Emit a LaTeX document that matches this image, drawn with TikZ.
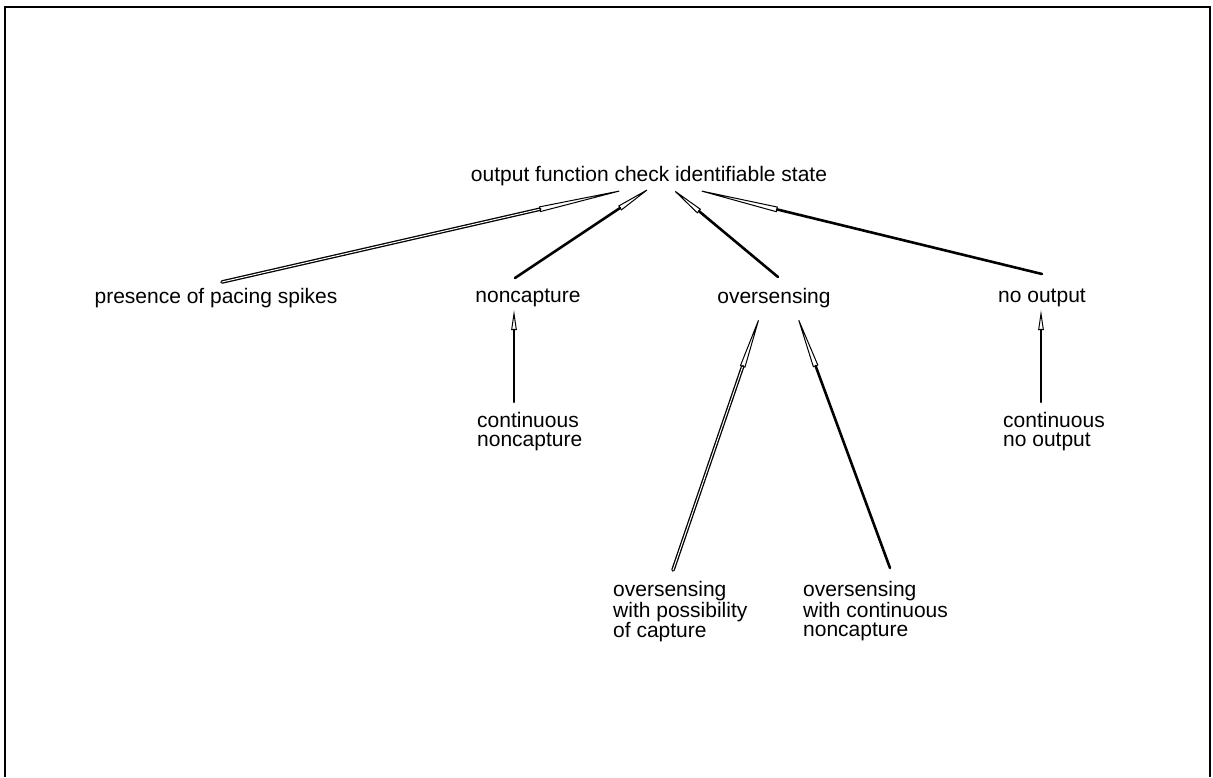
\documentclass[tikz,border=0pt]{standalone}
\usepackage{fontspec}
\setmainfont{Liberation Sans}
\usetikzlibrary{arrows.meta}
\begin{document}
\begin{tikzpicture}[x=1pt,y=-1pt,
  lbl/.style={inner sep=0pt, font=\fontsize{21}{19}\selectfont},
  multi/.style={lbl, align=left, anchor=north west},
  link/.style={line width=2.6pt, line cap=round,
    -{Stealth[open,length=#1,width=5.5pt,line width=1pt,inset=0pt]}},
  link/.default=20pt,
  hollow/.style={line width=1.3pt, double=white, double distance=1pt}]
  \useasboundingbox (0,0) rectangle (1213,777);
  % open frame
  \draw[line width=2.5pt] (5,777) -- (5,7) -- (1210,7) -- (1210,777);

  % nodes
  \node[lbl] (root) at (649,176) {output function check identifiable state};
  \node[lbl] (spk) at (216,298) {presence of pacing spikes};
  \node[lbl] (nc)  at (528,298) {noncapture};
  \node[lbl] (os)  at (774,298) {oversensing};
  \node[lbl] (no)  at (1042,298) {no output};
  \node[multi] (cnc) at (477,412) {continuous\\noncapture};
  \node[multi] (cno) at (1003,412) {continuous\\no output};
  \node[multi] (osc) at (613,581) {oversensing\\with possibility\\of capture};
  \node[multi] (osn) at (803,581) {oversensing\\with continuous\\noncapture};

  % anchor points of the connectors
  \coordinate (rA) at (637,187);
  \coordinate (rB) at (653,186);
  \coordinate (rC) at (670,187);
  \coordinate (rD) at (685,187);
  \coordinate (sA) at (222,282);
  \coordinate (nA) at (515,278);
  \coordinate (oA) at (778,277);
  \coordinate (dA) at (1042,274);
  \coordinate (oL) at (762,310);
  \coordinate (oR) at (795,310);
  \coordinate (cL) at (673,570);
  \coordinate (cR) at (890,568);
  \coordinate (vA) at (514,402);
  \coordinate (vAt) at (514,310);
  \coordinate (vB) at (1041,402);
  \coordinate (vBt) at (1041,310);

  % connectors
  \draw[link=100pt, hollow] (sA) -- (rA);
  \draw[link=40pt]  (nA) -- (rB);
  \draw[link=38pt]  (oA) -- (rC);
  \draw[link=95pt]  (dA) -- (rD);
  \draw[link] (vA) -- (vAt);
  \draw[link] (vB) -- (vBt);
  \draw[link=60pt, hollow] (cL) -- (oL);
  \draw[link=60pt] (cR) -- (oR);
\end{tikzpicture}
\end{document}
